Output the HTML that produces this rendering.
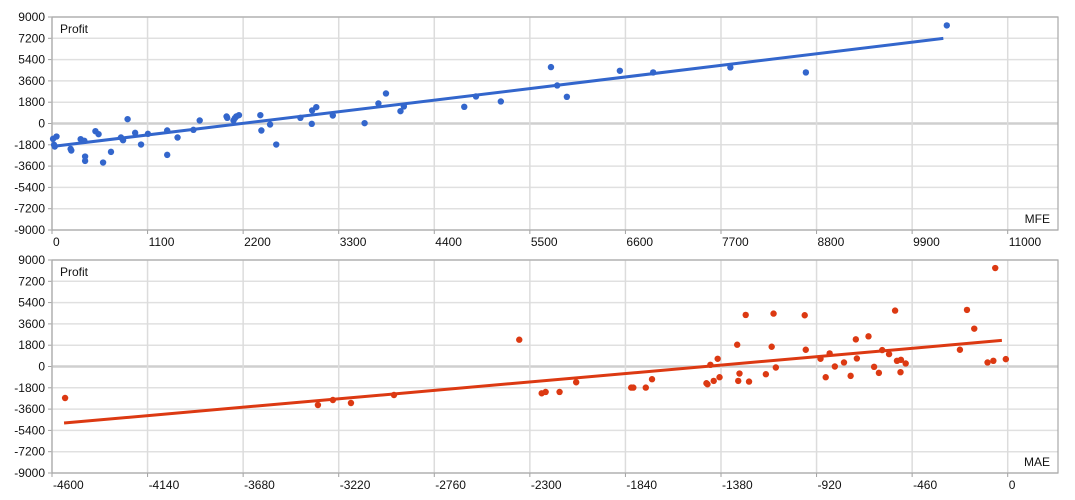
<!DOCTYPE html>
<html><head><meta charset="utf-8">
<style>
html,body{margin:0;padding:0;background:#fff;}
svg{display:block;font-family:"Liberation Sans",Arial,sans-serif;font-size:12px;}
</style></head>
<body>
<svg id="chart" width="1075" height="500" viewBox="0 0 1075 500"></svg>
<script>
// Top chart data (MFE vs Profit)
const mfeX = [12,52,24,32,214,222,330,373,381,381,500,536,588,679,794,818,870,957,1025,1104,1326,1326,1445,1628,1700,2009,2017,2089,2105,2121,2152,2398,2410,2510,2581,2859,2990,2994,3042,3232,3598,3757,3844,4011,4050,4745,4880,5166,5743,5815,5926,6536,6919,7808,8677,10299];
const mfeY = [-1297,-1100,-1805,-1946,-2143,-2284,-1325,-1466,-2792,-3158,-649,-902,-3299,-2397,-1184,-1410,367,-790,-1777,-874,-592,-2651,-1184,-536,254,592,479,254,451,592,705,705,-592,-85,-1777,479,-28,1100,1382,677,28,1692,2538,1043,1438,1410,2284,1861,4766,3215,2256,4456,4315,4738,4315,8291];
const mfeTrendX = [0,10259];
const mfeTrendY = [-1946,7191];
const mfeTicks = [0,1100,2200,3300,4400,5500,6600,7700,8800,9900,11000];
// Bottom chart data (MAE vs Profit)
const maeX = [-4537,-3320,-3248,-3161,-2954,-2351,-2243,-2224,-2157,-2077,-1812,-1802,-1742,-1712,-1450,-1445,-1431,-1415,-1396,-1387,-1302,-1297,-1291,-1261,-1245,-1164,-1136,-1127,-1116,-977,-972,-901,-876,-857,-832,-788,-756,-731,-726,-670,-643,-620,-604,-571,-542,-533,-516,-514,-491,-230,-196,-161,-97,-69,-60,-9];
const maeY = [-2662,-3253,-2831,-3084,-2408,2264,-2264,-2151,-2151,-1330,-1783,-1783,-1783,-1075,-1415,-1500,142,-1217,651,-906,1840,-1217,-594,4358,-1274,-651,1670,4471,-85,4330,1415,651,-906,1104,0,340,-792,2292,679,2547,-28,-538,1387,1047,4726,481,-481,566,255,1415,4783,3198,340,481,8320,623];
const maeTrendX = [-4542,-28];
const maeTrendY = [-4774,2207];
const maeTicks = [-4600,-4140,-3680,-3220,-2760,-2300,-1840,-1380,-920,-460,0];
const yTicks = [9000,7200,5400,3600,1800,0,-1800,-3600,-5400,-7200,-9000];

const NS = "http://www.w3.org/2000/svg";
const svg = document.getElementById("chart");
function mk(tag, attrs, parent){
  const e = document.createElementNS(NS, tag);
  for (const k in attrs) e.setAttribute(k, attrs[k]);
  (parent||svg).appendChild(e);
  return e;
}

function panel(cfg){
  const L=52, R=1058, T=cfg.top, B=cfg.top+213;
  const xs = v => L + (v - cfg.xmin) / (cfg.xmax - cfg.xmin) * (R - L - 50.3) ;
  const ys = v => T + (9000 - v) / 18000 * (B - T);
  const g = mk("g", {});
  
  
  // horizontal grid
  yTicks.forEach(t => {
    const y = ys(t);
    const l = mk("line", {x1:L, x2:R, y1:y, y2:y, stroke: t===0 ? "#cfcfcf" : "#e0e0e0", "stroke-width": t===0 ? 2.5 : 1.5}, g);
    
    
    mk("line", {x1:L-4, x2:L, y1:y, y2:y, stroke:"#a0a0a0"}, g);
    const tx = mk("text", {x:45, y:y+4, "text-anchor":"end", fill:"#111"}, g);
    tx.textContent = t;
    
    
  });
  // vertical grid
  cfg.ticks.forEach(t => {
    const x = xs(t);
    const l = mk("line", {x1:x, x2:x, y1:T, y2:B, stroke:"#dcdcdc", "stroke-width":1.5}, g);
    
    
    mk("line", {x1:x, x2:x, y1:B, y2:B+4, stroke:"#a0a0a0"}, g);
    const tx = mk("text", {x:x+1, y:B+16, fill:"#111"}, g);
    tx.textContent = t;
    
    
  });
  const fr = mk("rect", {x:L, y:T, width:R-L, height:B-T, fill:"none", stroke:"#a8a8a8", "stroke-width":1.2}, g);
  
  
  const yt = mk("text", {x:60, y:T+16, fill:"#111"}, g);
  yt.textContent = "Profit";
  
  
  const xt = mk("text", {x:R-8, y:B-7, "text-anchor":"end", fill:"#111"}, g);
  xt.textContent = cfg.label;
  
  
  // trend line
  const tl = mk("line", {x1:xs(cfg.tx[0]), y1:ys(cfg.ty[0]), x2:xs(cfg.tx[1]), y2:ys(cfg.ty[1]), stroke:cfg.color, "stroke-width":3}, g);
  
  
  // points
  cfg.px.forEach((v,i) => {
    const c = mk("circle", {cx:xs(v), cy:ys(cfg.py[i]), r:3.2, fill:cfg.color}, g);
    
    
  });
}
panel({name:"mfe", top:17, xmin:0, xmax:11000, ticks:mfeTicks, label:"MFE", color:"#3366cc", px:mfeX, py:mfeY, tx:mfeTrendX, ty:mfeTrendY});
panel({name:"mae", top:260, xmin:-4600, xmax:0, ticks:maeTicks, label:"MAE", color:"#dc3912", px:maeX, py:maeY, tx:maeTrendX, ty:maeTrendY});
</script>
</body></html>
